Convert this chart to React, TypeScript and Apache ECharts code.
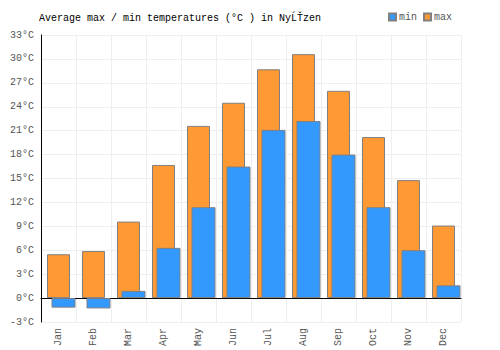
import React, { useEffect, useRef } from "react";
import * as echarts from "echarts";

const months = ["Jan", "Feb", "Mar", "Apr", "May", "Jun", "Jul", "Aug", "Sep", "Oct", "Nov", "Dec"];
const maxTemps = [5.5, 5.9, 9.6, 16.7, 21.6, 24.5, 28.7, 30.6, 26.0, 20.2, 14.8, 9.1];
const minTemps = [-1.2, -1.3, 0.9, 6.3, 11.4, 16.5, 21.1, 22.2, 18.0, 11.4, 6.0, 1.6];
const titleText = "Average max / min temperatures (°C ) in NyĹŤzen";

const FONT = "'Liberation Mono', 'DejaVu Sans Mono', monospace";

export default function App() {
  const ref = useRef<HTMLDivElement>(null);
  useEffect(() => {
    document.body.style.margin = "0";
    const chart = echarts.init(ref.current!, null, { renderer: "svg" });
    chart.setOption({
      animation: false,
      backgroundColor: "#ffffff",
      title: {
        text: titleText,
        left: 34,
        top: 8,
        textStyle: { fontFamily: FONT, fontSize: 10, fontWeight: "normal", color: "#000" },
      },
      legend: {
        data: ["min", "max"],
        right: 43,
        top: 7,
        icon: "rect",
        itemWidth: 7,
        itemHeight: 7,
        itemGap: 6,
        textStyle: { fontFamily: FONT, fontSize: 10, color: "#555", padding: [0, 0, 0, -2] },
      },
      grid: [
        { left: 41, right: 39, top: 35, bottom: 28 },
        { left: 46, right: 34, top: 35, bottom: 28 },
      ],
      xAxis: [
        {
          type: "category",
          gridIndex: 0,
          data: months,
          axisLine: { onZero: true, lineStyle: { color: "#000", width: 1 } },
          axisTick: { show: false },
          splitLine: { show: true, lineStyle: { color: "#eeeeee" } },
          axisLabel: { rotate: 90, fontFamily: FONT, fontSize: 10, color: "#555", margin: 6, interval: 0 },
        },
        {
          type: "category",
          gridIndex: 1,
          data: months,
          show: false,
        },
      ],
      yAxis: [
        {
          type: "value",
          gridIndex: 0,
          min: -3,
          max: 33,
          interval: 3,
          axisLine: { show: true, lineStyle: { color: "#000" } },
          axisTick: { show: false },
          splitLine: { lineStyle: { color: "#eeeeee" } },
          axisLabel: { formatter: "{value}°C", fontFamily: FONT, fontSize: 10, color: "#555", margin: 7 },
        },
        {
          type: "value",
          gridIndex: 1,
          min: -3,
          max: 33,
          interval: 3,
          show: false,
        },
      ],
      series: [
        {
          name: "max",
          type: "bar",
          xAxisIndex: 0,
          yAxisIndex: 0,
          data: maxTemps,
          barWidth: 23,
          z: 2,
          itemStyle: { color: "#ff9933", borderColor: "#808080", borderWidth: 1 },
        },
        {
          name: "min",
          type: "bar",
          xAxisIndex: 1,
          yAxisIndex: 1,
          data: minTemps,
          barWidth: 24,
          z: 3,
          itemStyle: { color: "#3399ff", borderColor: "#808080", borderWidth: 1 },
        },
      ],
    });
    return () => chart.dispose();
  }, []);
  return <div ref={ref} style={{ width: 500, height: 350 }} />;
}
